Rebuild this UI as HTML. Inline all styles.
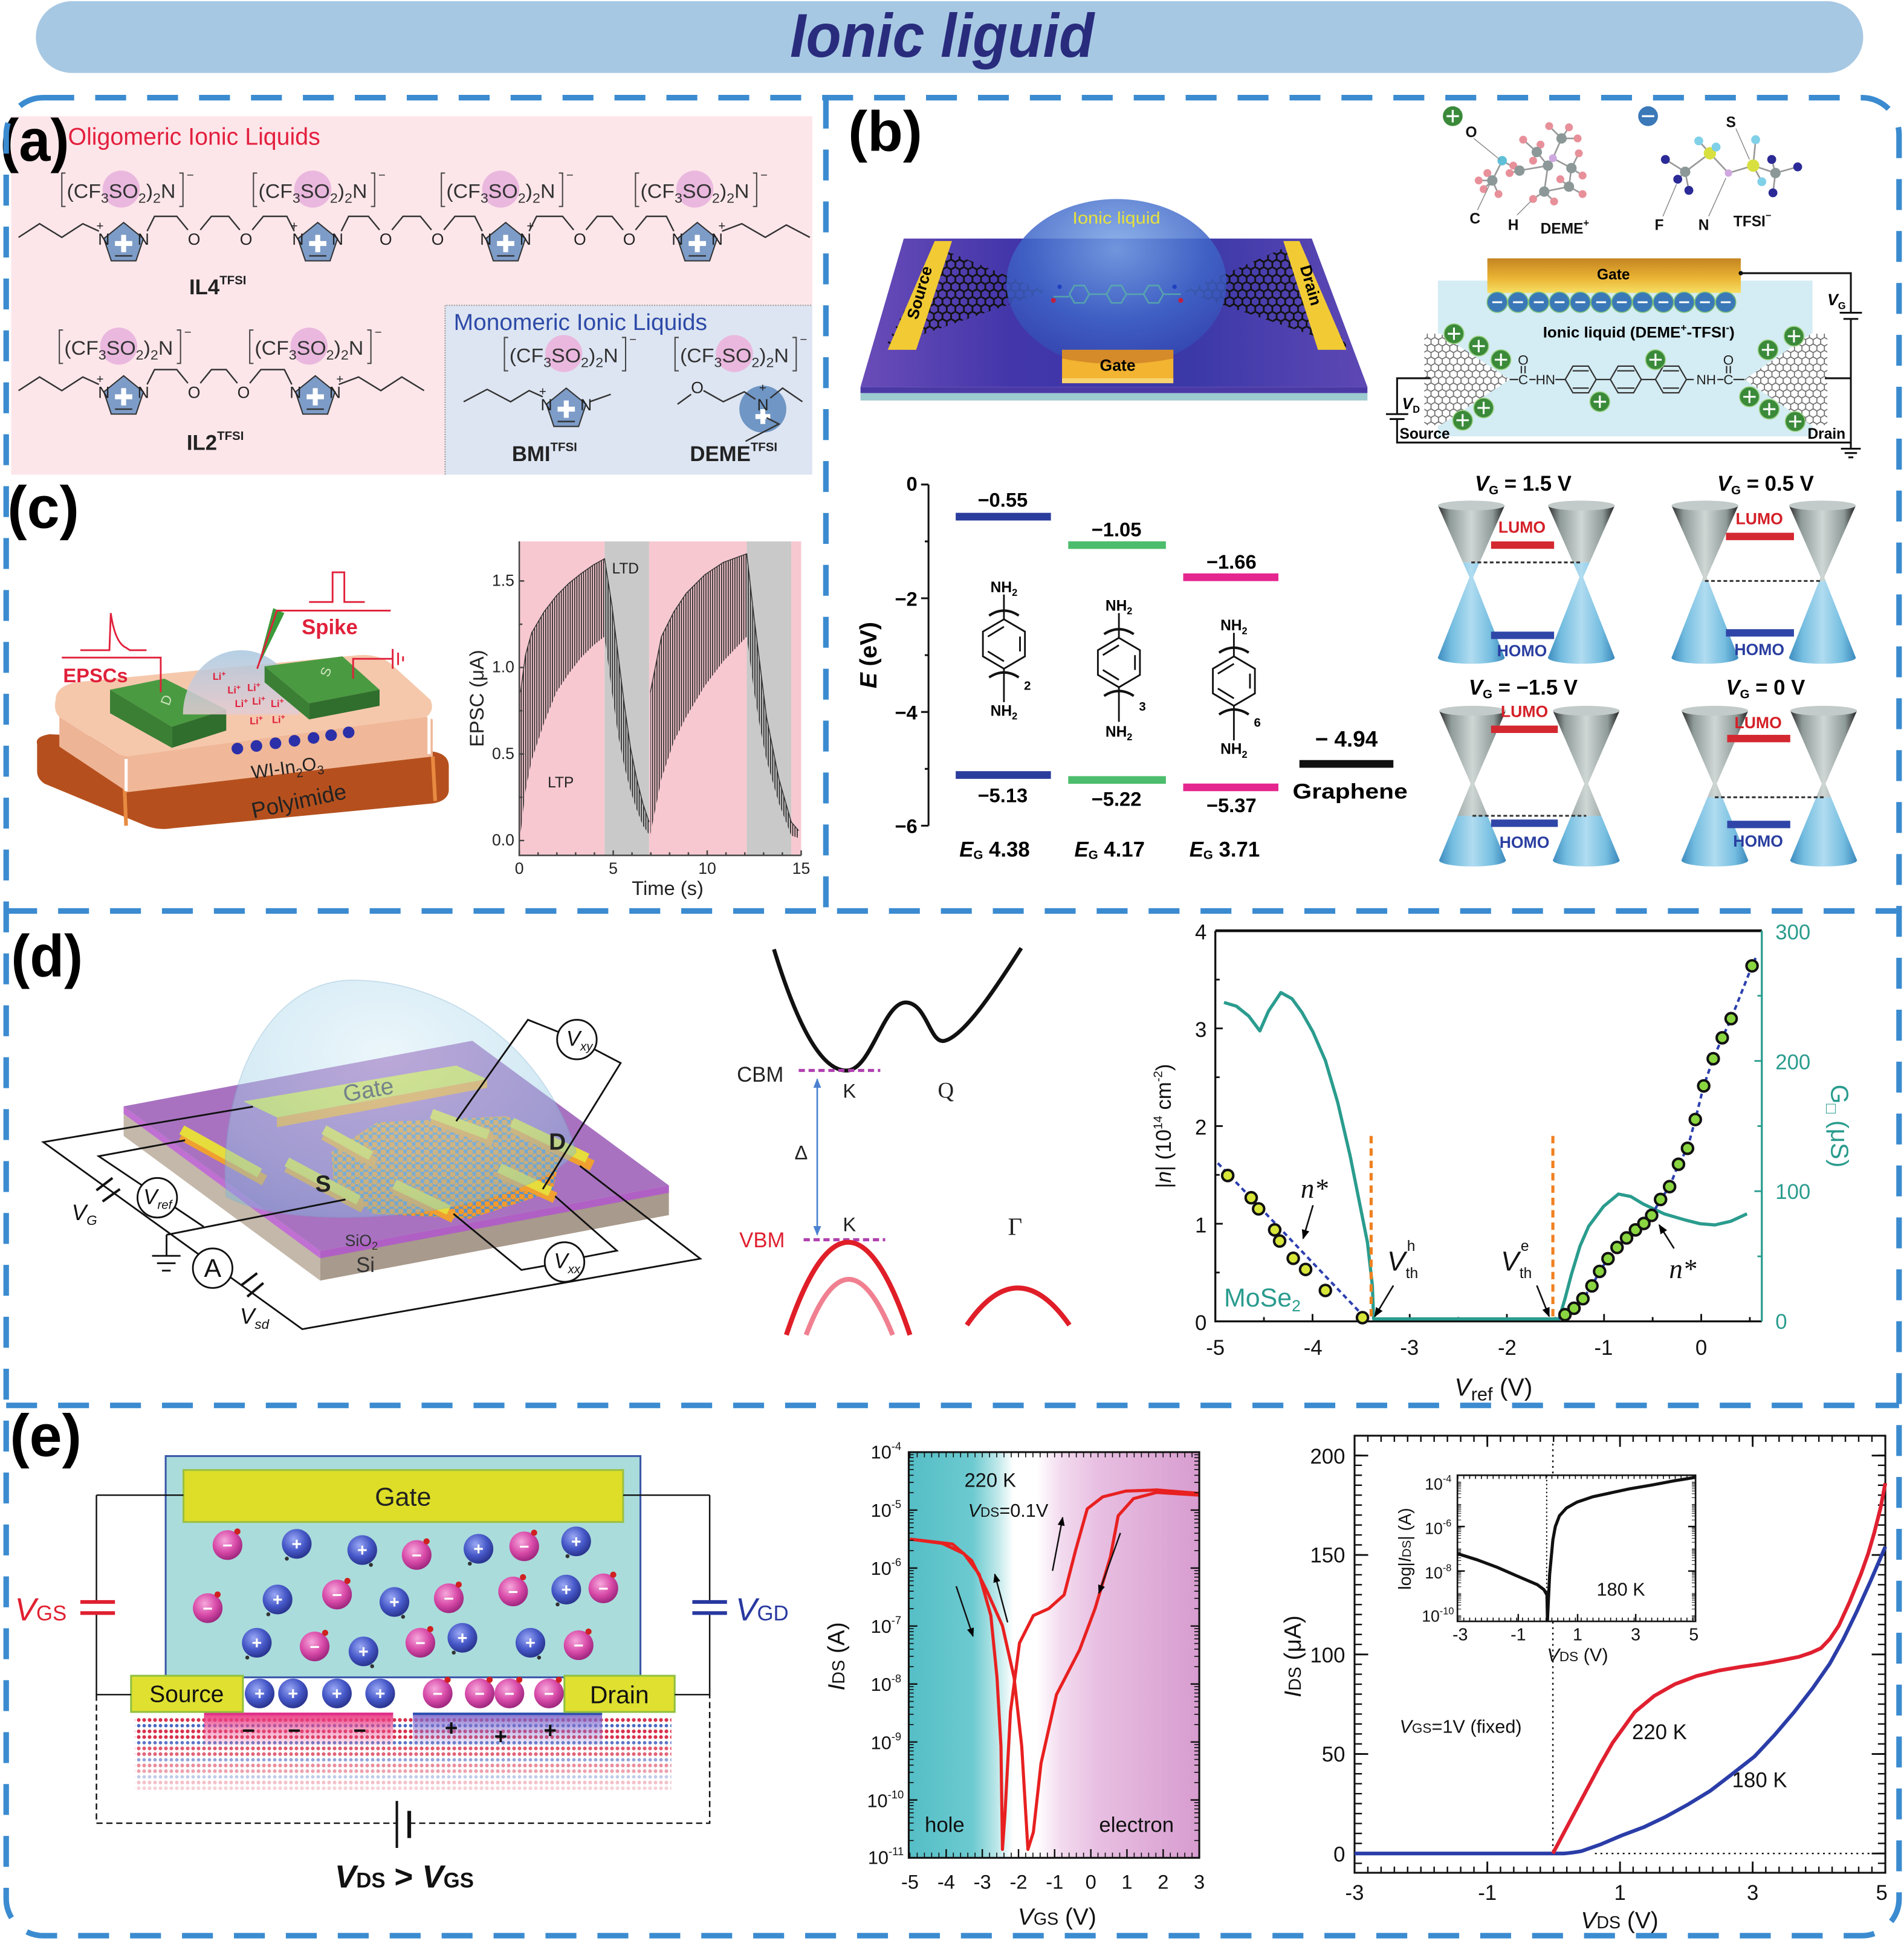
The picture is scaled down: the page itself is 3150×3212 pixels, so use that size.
<!DOCTYPE html>
<html><head><meta charset="utf-8"><style>
html,body{margin:0;padding:0;background:#fff;}
svg{display:block;}
text{font-family:"Liberation Sans",Arial,sans-serif;}
.serif{font-family:"Liberation Serif","Times New Roman",serif;}
</style></head><body>
<svg xmlns="http://www.w3.org/2000/svg" width="3150" height="3212" viewBox="0 0 1540 1570.3">
<defs>
<pattern id="hex" width="6.93" height="12" patternUnits="userSpaceOnUse"><path d="M0,2 L3.46,0 L6.93,2 M0,2 V6 M6.93,2 V6 M0,6 L3.46,8 L6.93,6 M3.46,8 V12" stroke="#111" stroke-width="1.4" fill="none"/></pattern>
<pattern id="hex2" width="6.06" height="10.5" patternUnits="userSpaceOnUse"><rect width="6.06" height="10.5" fill="#fff"/><path d="M0,1.75 L3.03,0 L6.06,1.75 M0,1.75 V5.25 M6.06,1.75 V5.25 M0,5.25 L3.03,7 L6.06,5.25 M3.03,7 V10.5" stroke="#666" stroke-width="0.8" fill="none"/></pattern>
<pattern id="vl" width="1.8" height="10" patternUnits="userSpaceOnUse"><rect width="0.8" height="10" fill="#222"/></pattern>
<pattern id="mose" width="7" height="6" patternUnits="userSpaceOnUse"><rect width="7" height="6" fill="#5a90c8"/><circle cx="2" cy="2" r="2.4" fill="#f39a2e"/><circle cx="5.5" cy="5" r="2" fill="#f39a2e"/></pattern>
<pattern id="dotR" width="4.4" height="4.6" patternUnits="userSpaceOnUse"><circle cx="2.2" cy="2.3" r="1.5" fill="#d8304c"/></pattern>
<pattern id="dotB" width="4.4" height="4.6" patternUnits="userSpaceOnUse"><circle cx="2.2" cy="2.3" r="1.4" fill="#4a66c0"/></pattern>
<linearGradient id="slabB" x1="0" x2="1" y1="0" y2="0"><stop offset="0" stop-color="#6a4cb8"/><stop offset=".3" stop-color="#4236aa"/><stop offset=".65" stop-color="#3b38a8"/><stop offset="1" stop-color="#5e48b4"/></linearGradient>
<radialGradient id="domeB" cx=".5" cy=".3" r=".7"><stop offset="0" stop-color="#7aa6e6"/><stop offset=".6" stop-color="#3f66c8"/><stop offset="1" stop-color="#3448b2"/></radialGradient>
<linearGradient id="gold" x1="0" x2="0" y1="0" y2="1"><stop offset="0" stop-color="#c48422"/><stop offset=".55" stop-color="#e9b233"/><stop offset="1" stop-color="#f7de62"/></linearGradient>
<linearGradient id="gc" x1="0" x2="1" y1="0" y2="0"><stop offset="0" stop-color="#2b2b2b"/><stop offset=".18" stop-color="#8f9b99"/><stop offset=".5" stop-color="#cfd7d5"/><stop offset=".82" stop-color="#8f9b99"/><stop offset="1" stop-color="#1e1e1e"/></linearGradient>
<linearGradient id="bc" x1="0" x2="1" y1="0" y2="0"><stop offset="0" stop-color="#3d8cc0"/><stop offset=".2" stop-color="#74bde0"/><stop offset=".5" stop-color="#b0dcf0"/><stop offset=".8" stop-color="#74bde0"/><stop offset="1" stop-color="#3a88bc"/></linearGradient>
<radialGradient id="domeD" cx=".45" cy=".3" r=".75"><stop offset="0" stop-color="#d4ecf6"/><stop offset=".7" stop-color="#9ccfe8"/><stop offset="1" stop-color="#7ab8dc"/></radialGradient>
<linearGradient id="domeC" x1="0" x2="0" y1="0" y2="1"><stop offset="0" stop-color="#a8c8e0"/><stop offset="1" stop-color="#e4ccd4"/></linearGradient>
<linearGradient id="vgsbg" x1="0" x2="1" y1="0" y2="0"><stop offset="0" stop-color="#55bec6"/><stop offset=".22" stop-color="#6ccad0"/><stop offset=".3" stop-color="#b9e6e8"/><stop offset=".36" stop-color="#ffffff"/><stop offset=".44" stop-color="#ffffff"/><stop offset=".52" stop-color="#f3dcef"/><stop offset=".65" stop-color="#e8bfe2"/><stop offset="1" stop-color="#d79ccf"/></linearGradient>
<linearGradient id="pinkH" x1="0" x2="0" y1="0" y2="1"><stop offset="0" stop-color="#e8307c" stop-opacity=".95"/><stop offset="1" stop-color="#f070a8" stop-opacity=".15"/></linearGradient>
<linearGradient id="purpH" x1="0" x2="0" y1="0" y2="1"><stop offset="0" stop-color="#7860c8" stop-opacity=".9"/><stop offset="1" stop-color="#a090e0" stop-opacity=".15"/></linearGradient>
<radialGradient id="ionP" cx=".4" cy=".35" r=".65"><stop offset="0" stop-color="#f6a8dc"/><stop offset=".6" stop-color="#d84aa8"/><stop offset="1" stop-color="#a02880"/></radialGradient>
<radialGradient id="ionB" cx=".4" cy=".35" r=".65"><stop offset="0" stop-color="#9aa8f4"/><stop offset=".6" stop-color="#4658c8"/><stop offset="1" stop-color="#2a3590"/></radialGradient>
<marker id="ah" viewBox="0 0 10 10" refX="9" refY="5" markerWidth="6" markerHeight="6" orient="auto"><path d="M0,1 L10,5 L0,9 Z" fill="#000"/></marker>
<marker id="ahb" viewBox="0 0 10 10" refX="9" refY="5" markerWidth="6" markerHeight="6" orient="auto-start-reverse"><path d="M0,1 L10,5 L0,9 Z" fill="#4a80d0"/></marker>
<clipPath id="u1"><rect x="1150" y="400" width="170" height="55"/></clipPath>
<clipPath id="l1"><rect x="1150" y="455" width="170" height="90"/></clipPath>
<clipPath id="u2"><rect x="1340" y="400" width="175" height="70"/></clipPath>
<clipPath id="l2"><rect x="1340" y="470" width="175" height="75"/></clipPath>
<clipPath id="u3"><rect x="1150" y="565" width="170" height="95"/></clipPath>
<clipPath id="l3"><rect x="1150" y="660" width="170" height="45"/></clipPath>
<clipPath id="u4"><rect x="1345" y="565" width="170" height="80"/></clipPath>
<clipPath id="l4"><rect x="1345" y="645" width="170" height="60"/></clipPath>
</defs>

<!-- Banner -->
<rect x="29" y="1" width="1478" height="58" rx="29" fill="#a7c8e3"/>
<text x="762" y="46" font-size="50" font-weight="bold" font-style="italic" fill="#292c7d" text-anchor="middle" textLength="246" lengthAdjust="spacingAndGlyphs">Ionic liguid</text>

<!-- Panel (a) -->
<rect x="9" y="94" width="648" height="290" fill="#fde6ea"/>
<rect x="360" y="247" width="297" height="137" fill="#dde5f2"/>
<path d="M360 384 V247 H657" fill="none" stroke="#9a9a9a" stroke-width="1" stroke-dasharray="1 1"/>
<text x="0" y="130" font-size="48" font-weight="bold" textLength="56" lengthAdjust="spacingAndGlyphs">(a)</text>
<text x="55" y="117" font-size="19.5" fill="#e3203e" textLength="204" lengthAdjust="spacingAndGlyphs">Oligomeric Ionic Liquids</text>
<text x="367" y="267" font-size="18.5" fill="#2d4aa8" textLength="205" lengthAdjust="spacingAndGlyphs">Monomeric Ionic Liquids</text>

<g fill="#eab8de">
<circle cx="98" cy="153" r="15"/><circle cx="253" cy="153" r="15"/><circle cx="405" cy="153" r="15"/><circle cx="562" cy="153" r="15"/>
<circle cx="96" cy="280" r="15"/><circle cx="250" cy="280" r="15"/>
<circle cx="456" cy="286" r="15"/><circle cx="594" cy="286" r="15"/>
</g>
<g stroke="#444" fill="none" stroke-width="1">
<path d="M53 140 h-3 v27 h3 M145 140 h3 v27 h-3"/>
<path d="M208 140 h-3 v27 h3 M300 140 h3 v27 h-3"/>
<path d="M360 140 h-3 v27 h3 M452 140 h3 v27 h-3"/>
<path d="M517 140 h-3 v27 h3 M609 140 h3 v27 h-3"/>
<path d="M51 267 h-3 v27 h3 M143 267 h3 v27 h-3"/>
<path d="M205 267 h-3 v27 h3 M297 267 h3 v27 h-3"/>
<path d="M411 273 h-3 v27 h3 M503 273 h3 v27 h-3"/>
<path d="M549 273 h-3 v27 h3 M641 273 h3 v27 h-3"/>
</g>
<g font-size="16" fill="#333">
<text x="54" y="160" textLength="88" lengthAdjust="spacingAndGlyphs">(CF<tspan font-size="11" dy="4">3</tspan><tspan dy="-4">SO</tspan><tspan font-size="11" dy="4">2</tspan><tspan dy="-4">)</tspan><tspan font-size="11" dy="4">2</tspan><tspan dy="-4">N</tspan></text>
<text x="209" y="160" textLength="88" lengthAdjust="spacingAndGlyphs">(CF<tspan font-size="11" dy="4">3</tspan><tspan dy="-4">SO</tspan><tspan font-size="11" dy="4">2</tspan><tspan dy="-4">)</tspan><tspan font-size="11" dy="4">2</tspan><tspan dy="-4">N</tspan></text>
<text x="361" y="160" textLength="88" lengthAdjust="spacingAndGlyphs">(CF<tspan font-size="11" dy="4">3</tspan><tspan dy="-4">SO</tspan><tspan font-size="11" dy="4">2</tspan><tspan dy="-4">)</tspan><tspan font-size="11" dy="4">2</tspan><tspan dy="-4">N</tspan></text>
<text x="518" y="160" textLength="88" lengthAdjust="spacingAndGlyphs">(CF<tspan font-size="11" dy="4">3</tspan><tspan dy="-4">SO</tspan><tspan font-size="11" dy="4">2</tspan><tspan dy="-4">)</tspan><tspan font-size="11" dy="4">2</tspan><tspan dy="-4">N</tspan></text>
<text x="52" y="287" textLength="88" lengthAdjust="spacingAndGlyphs">(CF<tspan font-size="11" dy="4">3</tspan><tspan dy="-4">SO</tspan><tspan font-size="11" dy="4">2</tspan><tspan dy="-4">)</tspan><tspan font-size="11" dy="4">2</tspan><tspan dy="-4">N</tspan></text>
<text x="206" y="287" textLength="88" lengthAdjust="spacingAndGlyphs">(CF<tspan font-size="11" dy="4">3</tspan><tspan dy="-4">SO</tspan><tspan font-size="11" dy="4">2</tspan><tspan dy="-4">)</tspan><tspan font-size="11" dy="4">2</tspan><tspan dy="-4">N</tspan></text>
<text x="412" y="293" textLength="88" lengthAdjust="spacingAndGlyphs">(CF<tspan font-size="11" dy="4">3</tspan><tspan dy="-4">SO</tspan><tspan font-size="11" dy="4">2</tspan><tspan dy="-4">)</tspan><tspan font-size="11" dy="4">2</tspan><tspan dy="-4">N</tspan></text>
<text x="550" y="293" textLength="88" lengthAdjust="spacingAndGlyphs">(CF<tspan font-size="11" dy="4">3</tspan><tspan dy="-4">SO</tspan><tspan font-size="11" dy="4">2</tspan><tspan dy="-4">)</tspan><tspan font-size="11" dy="4">2</tspan><tspan dy="-4">N</tspan></text>
</g>
<g font-size="10" fill="#333">
<text x="151" y="145">−</text><text x="306" y="145">−</text><text x="458" y="145">−</text><text x="615" y="145">−</text>
<text x="149" y="272">−</text><text x="303" y="272">−</text><text x="509" y="278">−</text><text x="647" y="278">−</text>
</g>

<g fill="#7d9cc8" stroke="#333" stroke-width="1">
<polygon points="100,180 116,193 110,211 90,211 84,193"/>
<polygon points="257,180 273,193 267,211 247,211 241,193"/>
<polygon points="409,180 425,193 419,211 399,211 393,193"/>
<polygon points="564,180 580,193 574,211 554,211 548,193"/>
<polygon points="100,304 116,317 110,335 90,335 84,317"/>
<polygon points="255,304 271,317 265,335 245,335 239,317"/>
<polygon points="458,314 474,327 468,345 448,345 442,327"/>
</g>
<circle cx="617" cy="331" r="19" fill="#6f96c4"/>
<g fill="#fff">
<rect x="98" y="190" width="4" height="14"/><rect x="93" y="195" width="14" height="4"/>
<rect x="255" y="190" width="4" height="14"/><rect x="250" y="195" width="14" height="4"/>
<rect x="407" y="190" width="4" height="14"/><rect x="402" y="195" width="14" height="4"/>
<rect x="562" y="190" width="4" height="14"/><rect x="557" y="195" width="14" height="4"/>
<rect x="98" y="314" width="4" height="14"/><rect x="93" y="319" width="14" height="4"/>
<rect x="253" y="314" width="4" height="14"/><rect x="248" y="319" width="14" height="4"/>
<rect x="456" y="324" width="4" height="14"/><rect x="451" y="329" width="14" height="4"/>
<rect x="615" y="331" width="4" height="12"/><rect x="611" y="335" width="12" height="4"/>
</g>
<g stroke="#333" stroke-width="1.2" fill="none">
<path d="M93 207 H107 M250 207 H264 M402 207 H416 M557 207 H571 M93 331 H107 M248 331 H262 M451 341 H465"/>
<path d="M15 192 L32 181 L50 192 L67 181 L80 187"/>
<path d="M119 187 L125 175 L143 175 L152 186 M162 186 L171 175 L185 175 L194 186 M204 186 L213 175 L232 175 L238 187"/>
<path d="M276 187 L282 175 L298 175 L307 186 M317 186 L326 175 L340 175 L349 186 M359 186 L368 175 L384 175 L390 187"/>
<path d="M428 187 L434 175 L455 175 L464 186 M474 186 L483 175 L495 175 L504 186 M514 186 L523 175 L539 175 L545 187"/>
<path d="M584 187 L600 181 L619 192 L636 182 L655 192"/>
<path d="M15 316 L32 305 L50 316 L67 305 L80 311"/>
<path d="M119 311 L125 299 L143 299 L152 310 M162 310 L171 299 L183 299 L192 310 M202 310 L211 299 L230 299 L236 311"/>
<path d="M274 311 L290 305 L308 316 L325 305 L343 316"/>
<path d="M375 325 L394 315 L413 325 L428 316 L439 321 M477 325 L494 319"/>
<path d="M548 327 L559 319 M569 316 L585 325 L602 317 L611 323 M623 322 L633 314 L649 325 M620 338 L630 343 L603 357"/>
</g>
<g font-size="13" fill="#222" text-anchor="middle">
<text x="84" y="198">N</text><text x="116" y="198">N</text>
<text x="241" y="198">N</text><text x="273" y="198">N</text>
<text x="393" y="198">N</text><text x="425" y="198">N</text>
<text x="548" y="198">N</text><text x="580" y="198">N</text>
<text x="84" y="322">N</text><text x="116" y="322">N</text>
<text x="239" y="322">N</text><text x="271" y="322">N</text>
<text x="442" y="332">N</text><text x="474" y="332">N</text>
<text x="617" y="332">N</text>
<text x="157" y="198">O</text><text x="199" y="198">O</text><text x="312" y="198">O</text><text x="354" y="198">O</text><text x="469" y="198">O</text><text x="509" y="198">O</text>
<text x="157" y="322">O</text><text x="197" y="322">O</text>
<text x="564" y="318">O</text>
</g>
<g font-size="10" fill="#222">
<text x="78" y="186">+</text><text x="235" y="186">+</text><text x="426" y="186">+</text><text x="581" y="186">+</text>
<text x="78" y="310">+</text><text x="272" y="310">+</text><text x="436" y="320">+</text><text x="614" y="317">+</text>
</g>
<g font-size="17" font-weight="bold" fill="#222">
<text x="153" y="238">IL4<tspan font-size="10" dy="-8">TFSI</tspan></text>
<text x="151" y="364">IL2<tspan font-size="10" dy="-8">TFSI</tspan></text>
<text x="414" y="373">BMI<tspan font-size="10" dy="-8">TFSI</tspan></text>
<text x="558" y="373">DEME<tspan font-size="10" dy="-8">TFSI</tspan></text>
</g>

<!-- Panel (b) -->
<text x="686" y="122" font-size="46" font-weight="bold" textLength="60" lengthAdjust="spacingAndGlyphs">(b)</text>
<rect x="696" y="313" width="410" height="5" fill="#4b3aa6"/>
<rect x="696" y="318" width="410" height="6" fill="#9ccbd0"/>
<polygon points="731,193 1061,193 1106,313 696,313" fill="url(#slabB)"/>
<polygon points="758,200 846,236 716,281" fill="url(#hex)"/>
<polygon points="1040,200 958,236 1090,281" fill="url(#hex)"/>
<ellipse cx="903" cy="229" rx="89" ry="68" fill="url(#domeB)" opacity="0.85"/>
<g fill="none" stroke="#5ab0a8" stroke-width="1.3" opacity="0.8">
<polygon points="865,238 869,231 877,231 881,238 877,245 869,245"/>
<polygon points="895,238 899,231 907,231 911,238 907,245 899,245"/>
<polygon points="925,238 929,231 937,231 941,238 937,245 929,245"/>
<path d="M852 240 H865 M881 238 H895 M911 238 H925 M941 238 H955"/>
</g>
<circle cx="852" cy="243" r="2" fill="#c02040"/><circle cx="955" cy="243" r="2" fill="#c02040"/>
<circle cx="857" cy="232" r="1.8" fill="#2040c0"/><circle cx="950" cy="232" r="1.8" fill="#2040c0"/>
<polygon points="756,195 770,195 741,283 718,283" fill="#f2cb34"/>
<polygon points="1038,195 1051,195 1089,283 1066,283" fill="#f2cb34"/>
<text transform="translate(748,238) rotate(-74)" font-size="13" font-weight="bold" text-anchor="middle">Source</text>
<text transform="translate(1056,232) rotate(74)" font-size="13" font-weight="bold" text-anchor="middle">Drain</text>
<rect x="859" y="283" width="90" height="27" fill="#f2b431"/>
<path d="M859 283 H949 V290 Q904 299 859 290 Z" fill="#d08428" opacity=".85"/>
<rect x="859" y="306" width="90" height="4" fill="#f8d470"/>
<text x="904" y="300" font-size="13" font-weight="bold" text-anchor="middle">Gate</text>
<text x="903" y="181" font-size="13.5" fill="#e8e23a" text-anchor="middle" textLength="71" lengthAdjust="spacingAndGlyphs">Ionic liquid</text>

<!-- molecules top right -->
<g stroke="#999" stroke-width="1.3" fill="none">
<path d="M1207 146 L1215 130 L1229 138 L1252 134 L1243 123 M1252 134 L1256 128 L1263 112 M1256 128 L1271 136 L1269 151 L1249 155 L1252 134 M1207 146 L1196 146 M1207 146 L1200 153 M1207 146 L1212 157 M1207 146 L1203 140 M1229 138 L1221 140 M1229 138 L1224 134 M1243 123 L1232 113 M1243 123 L1246 117 M1263 112 L1253 102 M1263 112 L1269 103 M1263 112 L1276 112 M1271 136 L1277 124 M1271 136 L1280 142 M1269 151 L1280 157 M1249 155 L1257 163 M1249 155 L1240 161 M1269 151 L1262 145 M1243 123 L1240 130"/>
<path d="M1347 129 L1363 139 M1357 145 L1363 139 M1366 154 L1363 139 M1363 139 L1383 124 L1374 114 M1383 124 L1388 119 M1383 124 L1398 140 L1418 134 L1420 113 M1418 134 L1425 147 M1418 134 L1436 140 L1433 129 M1436 140 L1454 135 M1436 140 L1434 156"/>
</g>
<g fill="#e8909a"><circle cx="1196" cy="146" r="3.2"/><circle cx="1200" cy="153" r="3.2"/><circle cx="1212" cy="157" r="3.2"/><circle cx="1203" cy="140" r="3.2"/><circle cx="1221" cy="140" r="3.2"/><circle cx="1232" cy="113" r="3.2"/><circle cx="1246" cy="117" r="3.2"/><circle cx="1253" cy="102" r="3.2"/><circle cx="1269" cy="103" r="3.2"/><circle cx="1276" cy="112" r="3.2"/><circle cx="1277" cy="124" r="3.2"/><circle cx="1280" cy="142" r="3.2"/><circle cx="1280" cy="157" r="3.2"/><circle cx="1257" cy="163" r="3.2"/><circle cx="1240" cy="161" r="3.2"/><circle cx="1262" cy="145" r="3.2"/><circle cx="1240" cy="130" r="3.2"/><circle cx="1224" cy="134" r="3.2"/></g>
<g fill="#8c9898"><circle cx="1207" cy="146" r="4.2"/><circle cx="1229" cy="138" r="4.2"/><circle cx="1243" cy="123" r="4.2"/><circle cx="1252" cy="134" r="4.2"/><circle cx="1271" cy="136" r="4.2"/><circle cx="1269" cy="151" r="4.2"/><circle cx="1249" cy="155" r="4.2"/><circle cx="1263" cy="112" r="4.2"/><circle cx="1363" cy="139" r="4.2"/><circle cx="1436" cy="140" r="4.2"/></g>
<circle cx="1215" cy="130" r="3.8" fill="#5fc0d8"/><circle cx="1256" cy="128" r="3.2" fill="#cfa8e0"/>
<g fill="#2b2a96"><circle cx="1347" cy="129" r="3.6"/><circle cx="1357" cy="145" r="3.6"/><circle cx="1366" cy="154" r="3.6"/><circle cx="1433" cy="129" r="3.6"/><circle cx="1454" cy="135" r="3.6"/><circle cx="1434" cy="156" r="3.6"/></g>
<g fill="#d8e040"><circle cx="1383" cy="124" r="5"/><circle cx="1418" cy="134" r="5"/></g>
<g fill="#80d0e8"><circle cx="1374" cy="114" r="3.6"/><circle cx="1388" cy="119" r="3.6"/><circle cx="1420" cy="113" r="3.6"/><circle cx="1425" cy="147" r="3.6"/></g>
<circle cx="1398" cy="140" r="3" fill="#d0a8e0"/>
<g stroke="#888" stroke-width="0.7" fill="none"><path d="M1192 112 L1213 129 M1195 170 L1205 149 M1227 174 L1238 163 M1345 175 L1356 149 M1382 175 L1396 144 M1404 104 L1415 129"/></g>
<circle cx="1175" cy="94" r="8" fill="#3a8a3a"/><path d="M1170 94 H1180 M1175 89 V99" stroke="#fff" stroke-width="1.6"/>
<circle cx="1333" cy="94" r="8" fill="#3a78b8"/><path d="M1328 94 H1338" stroke="#fff" stroke-width="1.6"/>
<g font-size="12" font-weight="bold" fill="#111">
<text x="1190" y="111" text-anchor="middle">O</text><text x="1193" y="181" text-anchor="middle">C</text><text x="1224" y="186" text-anchor="middle">H</text>
<text x="1246" y="189">DEME<tspan font-size="8" dy="-6">+</tspan></text>
<text x="1342" y="186" text-anchor="middle">F</text><text x="1378" y="186" text-anchor="middle">N</text>
<text x="1402" y="183">TFSI<tspan font-size="8" dy="-6">−</tspan></text>
<text x="1400" y="103" text-anchor="middle">S</text>
</g>

<!-- circuit schematic -->
<rect x="1163" y="227" width="303" height="126" fill="#d4ecf3"/>
<rect x="1203" y="209" width="205" height="28" fill="url(#gold)"/>
<text x="1305" y="226" font-size="12" font-weight="bold" text-anchor="middle">Gate</text>
<g fill="#3a78b8" stroke="#7cc07a" stroke-width="0.8">
<circle cx="1211" cy="244.5" r="8.2"/><circle cx="1227.8" cy="244.5" r="8.2"/><circle cx="1244.6" cy="244.5" r="8.2"/><circle cx="1261.4" cy="244.5" r="8.2"/><circle cx="1278.2" cy="244.5" r="8.2"/><circle cx="1295" cy="244.5" r="8.2"/><circle cx="1311.8" cy="244.5" r="8.2"/><circle cx="1328.6" cy="244.5" r="8.2"/><circle cx="1345.4" cy="244.5" r="8.2"/><circle cx="1362.2" cy="244.5" r="8.2"/><circle cx="1379" cy="244.5" r="8.2"/><circle cx="1395.8" cy="244.5" r="8.2"/>
</g>
<path d="M1207 244.5 h8 M1223.8 244.5 h8 M1240.6 244.5 h8 M1257.4 244.5 h8 M1274.2 244.5 h8 M1291 244.5 h8 M1307.8 244.5 h8 M1324.6 244.5 h8 M1341.4 244.5 h8 M1358.2 244.5 h8 M1375 244.5 h8 M1391.8 244.5 h8" stroke="#fff" stroke-width="1.5"/>
<text x="1248" y="273" font-size="12" font-weight="bold" textLength="155" lengthAdjust="spacingAndGlyphs">Ionic liquid (DEME<tspan font-size="8" dy="-5">+</tspan><tspan dy="5">-TFSI</tspan><tspan font-size="8" dy="-5">-</tspan><tspan dy="5">)</tspan></text>
<polygon points="1152,270 1165,270 1221,307 1165,344 1152,344" fill="url(#hex2)"/>
<polygon points="1478,270 1465,270 1411,307 1465,344 1478,344" fill="url(#hex2)"/>
<g stroke="#333" stroke-width="1.1" fill="none">
<path d="M1221 307 H1228 M1237 307 H1242 M1258 307 H1266 M1291 307 H1302.5 M1327.5 307 H1339 M1364 307 H1370 M1389 307 H1394 M1402 307 H1411"/>
<path d="M1230.5 296 V302 M1233.5 296 V302 M1396.5 296 V302 M1399.5 296 V302"/>
<polygon points="1266,307 1272.25,296.2 1284.75,296.2 1291,307 1284.75,317.8 1272.25,317.8"/>
<polygon points="1302.5,307 1308.75,296.2 1321.25,296.2 1327.5,307 1321.25,317.8 1308.75,317.8"/>
<polygon points="1339,307 1345.25,296.2 1357.75,296.2 1364,307 1357.75,317.8 1345.25,317.8"/>
<path d="M1272 300 H1285 M1272 314 H1285 M1308 300 H1322 M1308 314 H1322 M1345 300 H1358 M1345 314 H1358"/>
</g>
<g font-size="11" fill="#222" text-anchor="middle">
<text x="1232" y="311">C</text><text x="1250" y="311">HN</text><text x="1380" y="311">NH</text><text x="1398" y="311">C</text>
<text x="1232" y="295">O</text><text x="1398" y="295">O</text>
</g>
<g fill="#3a8a3a" stroke="#9ad080" stroke-width="0.8">
<circle cx="1176" cy="270" r="8"/><circle cx="1196" cy="280" r="8"/><circle cx="1214" cy="291" r="8"/><circle cx="1200" cy="330" r="8"/><circle cx="1183" cy="340" r="8"/><circle cx="1339" cy="291" r="8"/><circle cx="1294" cy="325" r="8"/><circle cx="1451" cy="272" r="8"/><circle cx="1430" cy="283" r="8"/><circle cx="1415" cy="321" r="8"/><circle cx="1431" cy="331" r="8"/><circle cx="1452" cy="341" r="8"/>
</g>
<path d="M1171 270 h10 M1176 265 v10 M1191 280 h10 M1196 275 v10 M1209 291 h10 M1214 286 v10 M1195 330 h10 M1200 325 v10 M1178 340 h10 M1183 335 v10 M1334 291 h10 M1339 286 v10 M1289 325 h10 M1294 320 v10 M1446 272 h10 M1451 267 v10 M1425 283 h10 M1430 278 v10 M1410 321 h10 M1415 316 v10 M1426 331 h10 M1431 326 v10 M1447 341 h10 M1452 336 v10" stroke="#fff" stroke-width="1.5"/>
<g stroke="#111" stroke-width="1.5" fill="none">
<path d="M1408 221 H1497 V253 M1497 258 V358 H1130 V339 M1130 335 V306 H1157 M1476 306 H1497"/>
<path d="M1488 253 H1506 M1491 258 H1503 M1121 335 H1139 M1124 339 H1136"/>
<path d="M1497 358 V363 M1489 363 H1505 M1492 366.5 H1502 M1495 370 H1499"/>
</g>
<circle cx="1408" cy="221" r="1.8" fill="#111"/>
<text x="1478" y="247" font-size="13" font-weight="bold"><tspan font-style="italic">V</tspan><tspan font-size="8" dy="3">G</tspan></text>
<text x="1134" y="331" font-size="13" font-weight="bold"><tspan font-style="italic">V</tspan><tspan font-size="8" dy="3">D</tspan></text>
<text x="1132" y="355" font-size="12" font-weight="bold">Source</text>
<text x="1462" y="355" font-size="12" font-weight="bold">Drain</text>

<!-- energy diagram -->
<g stroke="#111" stroke-width="1.5">
<path d="M751 392 V668 M745 392 H751 M745 484 H751 M745 576 H751 M745 668 H751 M748 438 H751 M748 530 H751 M748 622 H751"/>
</g>
<g font-size="16" font-weight="bold" text-anchor="end">
<text x="742" y="397">0</text><text x="742" y="490">−2</text><text x="742" y="582">−4</text><text x="742" y="674">−6</text>
</g>
<text transform="translate(709,530) rotate(-90)" text-anchor="middle" font-size="19" font-weight="bold"><tspan font-style="italic">E</tspan> (eV)</text>
<g stroke-width="6.2">
<line x1="773" y1="418" x2="850" y2="418" stroke="#2b3d9c"/>
<line x1="773" y1="627" x2="850" y2="627" stroke="#2b3d9c"/>
<line x1="864" y1="441" x2="943" y2="441" stroke="#4cbd6c"/>
<line x1="864" y1="631" x2="943" y2="631" stroke="#4cbd6c"/>
<line x1="957" y1="467" x2="1034" y2="467" stroke="#e5268f"/>
<line x1="957" y1="637" x2="1034" y2="637" stroke="#e5268f"/>
<line x1="1051" y1="618" x2="1127" y2="618" stroke="#111"/>
</g>
<g font-size="16" font-weight="bold" text-anchor="middle">
<text x="811" y="410">−0.55</text><text x="903" y="434">−1.05</text><text x="996" y="460">−1.66</text>
<text x="811" y="649">−5.13</text><text x="903" y="652">−5.22</text><text x="996" y="657">−5.37</text>
<text x="1089" y="604" font-size="18">− 4.94</text>
<text x="1092" y="646" font-size="17" textLength="93" lengthAdjust="spacingAndGlyphs">Graphene</text>
</g>
<g font-size="17" font-weight="bold">
<text x="776" y="693"><tspan font-style="italic">E</tspan><tspan font-size="10" dy="2">G</tspan><tspan dy="-2"> 4.38</tspan></text>
<text x="869" y="693"><tspan font-style="italic">E</tspan><tspan font-size="10" dy="2">G</tspan><tspan dy="-2"> 4.17</tspan></text>
<text x="962" y="693"><tspan font-style="italic">E</tspan><tspan font-size="10" dy="2">G</tspan><tspan dy="-2"> 3.71</tspan></text>
</g>
<g stroke="#111" stroke-width="1.4" fill="none">
<path d="M812 481 V501 M812 541 V568"/>
<polygon points="812,501 829,511 829,531 812,541 795,531 795,511"/>
<path d="M799 515 L812 507 M825 515 V527 M799 527 L812 535"/>
<path d="M800 498 Q812 490 824 498 M800 548 Q812 540 824 548" stroke-width="2"/>
<path d="M905 496 V516 M905 556 V584"/>
<polygon points="905,516 922,526 922,546 905,556 888,546 888,526"/>
<path d="M892 530 L905 522 M918 530 V542 M892 542 L905 550"/>
<path d="M893 513 Q905 505 917 513 M893 563 Q905 555 917 563" stroke-width="2"/>
<path d="M998 512 V531 M998 571 V599"/>
<polygon points="998,531 1015,541 1015,561 998,571 981,561 981,541"/>
<path d="M985 545 L998 537 M1011 545 V557 M985 557 L998 565"/>
<path d="M986 528 Q998 520 1010 528 M986 578 Q998 570 1010 578" stroke-width="2"/>
</g>
<g font-size="12" font-weight="bold" text-anchor="middle">
<text x="812" y="479">NH<tspan font-size="8" dy="3">2</tspan></text>
<text x="812" y="579">NH<tspan font-size="8" dy="3">2</tspan></text>
<text x="905" y="494">NH<tspan font-size="8" dy="3">2</tspan></text>
<text x="905" y="596">NH<tspan font-size="8" dy="3">2</tspan></text>
<text x="998" y="510">NH<tspan font-size="8" dy="3">2</tspan></text>
<text x="998" y="610">NH<tspan font-size="8" dy="3">2</tspan></text>
<text x="831" y="558" font-size="10">2</text><text x="924" y="575" font-size="10">3</text><text x="1017" y="588" font-size="10">6</text>
</g>

<!-- cones -->
<g clip-path="url(#u1)" fill="url(#gc)"><polygon points="1163,409 1217,409 1191.5,467 1217,532 1163,532 1188.5,467"/><polygon points="1252,409 1306,409 1280.5,467 1306,532 1252,532 1277.5,467"/></g>
<g clip-path="url(#l1)" fill="url(#bc)"><polygon points="1163,409 1217,409 1191.5,467 1217,532 1163,532 1188.5,467"/><polygon points="1252,409 1306,409 1280.5,467 1306,532 1252,532 1277.5,467"/><ellipse cx="1190" cy="532" rx="27" ry="5"/><ellipse cx="1279" cy="532" rx="27" ry="5"/></g>
<g clip-path="url(#u2)" fill="url(#gc)"><polygon points="1352,409 1406,409 1380.5,467 1406,532 1352,532 1377.5,467"/><polygon points="1447,409 1501,409 1475.5,467 1501,532 1447,532 1472.5,467"/></g>
<g clip-path="url(#l2)" fill="url(#bc)"><polygon points="1352,409 1406,409 1380.5,467 1406,532 1352,532 1377.5,467"/><polygon points="1447,409 1501,409 1475.5,467 1501,532 1447,532 1472.5,467"/><ellipse cx="1379" cy="532" rx="27" ry="5"/><ellipse cx="1474" cy="532" rx="27" ry="5"/></g>
<g clip-path="url(#u3)" fill="url(#gc)"><polygon points="1164,575 1218,575 1192.5,634 1218,696 1164,696 1189.5,634"/><polygon points="1256,575 1310,575 1284.5,634 1310,696 1256,696 1281.5,634"/></g>
<g clip-path="url(#l3)" fill="url(#bc)"><polygon points="1164,575 1218,575 1192.5,634 1218,696 1164,696 1189.5,634"/><polygon points="1256,575 1310,575 1284.5,634 1310,696 1256,696 1281.5,634"/><ellipse cx="1191" cy="696" rx="27" ry="5"/><ellipse cx="1283" cy="696" rx="27" ry="5"/></g>
<g clip-path="url(#u4)" fill="url(#gc)"><polygon points="1360,575 1414,575 1388.5,634 1414,696 1360,696 1385.5,634"/><polygon points="1448,575 1502,575 1476.5,634 1502,696 1448,696 1473.5,634"/></g>
<g clip-path="url(#l4)" fill="url(#bc)"><polygon points="1360,575 1414,575 1388.5,634 1414,696 1360,696 1385.5,634"/><polygon points="1448,575 1502,575 1476.5,634 1502,696 1448,696 1473.5,634"/><ellipse cx="1387" cy="696" rx="27" ry="5"/><ellipse cx="1475" cy="696" rx="27" ry="5"/></g>
<g fill="#c2cbc9"><ellipse cx="1190" cy="409" rx="27" ry="4"/><ellipse cx="1279" cy="409" rx="27" ry="4"/><ellipse cx="1379" cy="409" rx="27" ry="4"/><ellipse cx="1474" cy="409" rx="27" ry="4"/><ellipse cx="1191" cy="575" rx="27" ry="4"/><ellipse cx="1283" cy="575" rx="27" ry="4"/><ellipse cx="1387" cy="575" rx="27" ry="4"/><ellipse cx="1475" cy="575" rx="27" ry="4"/></g>
<g stroke="#333" stroke-width="1.5" stroke-dasharray="3 2"><path d="M1190 455 H1279 M1379 470 H1474 M1191 660 H1283 M1387 645 H1475"/></g>
<g fill="#d42830"><rect x="1206" y="438" width="51" height="6"/><rect x="1396" y="431" width="55" height="6"/><rect x="1206" y="587" width="54" height="6"/><rect x="1397" y="594.5" width="51" height="6"/></g>
<g fill="#2f46a8"><rect x="1206" y="511" width="51" height="6"/><rect x="1396" y="509" width="55" height="6"/><rect x="1206" y="663" width="54" height="6"/><rect x="1397" y="664" width="51" height="6"/></g>
<g font-size="13" font-weight="bold" text-anchor="middle">
<text x="1231" y="431" fill="#d42028">LUMO</text><text x="1423" y="424" fill="#d42028">LUMO</text><text x="1233" y="580" fill="#d42028">LUMO</text><text x="1422" y="589" fill="#d42028">LUMO</text>
<text x="1231" y="531" fill="#2a3ea0">HOMO</text><text x="1423" y="530" fill="#2a3ea0">HOMO</text><text x="1233" y="686" fill="#2a3ea0">HOMO</text><text x="1422" y="685" fill="#2a3ea0">HOMO</text>
</g>
<g font-size="17" font-weight="bold" text-anchor="middle">
<text x="1232" y="397"><tspan font-style="italic">V</tspan><tspan font-size="10" dy="3">G</tspan><tspan dy="-3"> = 1.5 V</tspan></text>
<text x="1428" y="397"><tspan font-style="italic">V</tspan><tspan font-size="10" dy="3">G</tspan><tspan dy="-3"> = 0.5 V</tspan></text>
<text x="1232" y="562"><tspan font-style="italic">V</tspan><tspan font-size="10" dy="3">G</tspan><tspan dy="-3"> = −1.5 V</tspan></text>
<text x="1428" y="562"><tspan font-style="italic">V</tspan><tspan font-size="10" dy="3">G</tspan><tspan dy="-3"> = 0 V</tspan></text>
</g>

<!-- Panel (c) -->
<text x="6" y="427" font-size="48" font-weight="bold" textLength="58" lengthAdjust="spacingAndGlyphs">(c)</text>
<path d="M30 602 Q28 596 40 594 L350 608 Q363 610 363 620 L363 640 Q362 648 350 650 L140 670 Q128 672 118 668 L36 634 Q30 630 30 624 Z" fill="#b5501e"/>
<path d="M100 620 L102 668 M350 612 L352 648" stroke="#e88a40" stroke-width="3"/>
<path d="M45 566 Q45 556 60 552 L290 530 Q305 529 315 536 L348 566 Q352 574 345 580 L110 612 Q100 614 92 608 L48 580 Q43 575 45 566 Z" fill="#f5c8ac"/>
<path d="M48 580 L95 610 L102 612 L102 640 L48 604 Z" fill="#eeb496"/>
<path d="M102 612 L345 580 L350 582 L350 612 L102 641 Z" fill="#f0b898"/>
<path d="M102 614 V640 M347 580 V610" stroke="#fff" stroke-width="2.5"/>
<polygon points="89,558 133,549 183,574 139,588" fill="#4a9a42"/>
<polygon points="89,558 139,588 139,605 89,577" fill="#3a7f34"/>
<polygon points="139,588 183,574 183,591 139,605" fill="#2f6e2c"/>
<path d="M148 578 A47 52 0 0 1 242 578 Z" fill="url(#domeC)" opacity="0.85"/>
<polygon points="214,539 277,531 307,558 250,569" fill="#4a9a42"/>
<polygon points="214,539 250,569 250,582 214,552" fill="#3a7f34"/>
<polygon points="250,569 307,558 307,571 250,582" fill="#2f6e2c"/>
<text x="133" y="574" font-size="11" fill="#cfe6bf" transform="rotate(-70 133 570)">D</text>
<text x="262" y="551" font-size="11" fill="#cfe6bf" transform="rotate(-70 262 547)">S</text>
<polygon points="221,492 230,496 208,541" fill="#3a9a3a"/>
<g fill="#2b2fa8"><circle cx="192" cy="605.6" r="4.7"/><circle cx="207.4" cy="603.5" r="4.7"/><circle cx="222.8" cy="601.3" r="4.7"/><circle cx="238.2" cy="599.3" r="4.7"/><circle cx="253.6" cy="597" r="4.7"/><circle cx="267.8" cy="594.8" r="4.7"/><circle cx="282" cy="592.5" r="4.7"/></g>
<g stroke="#e0203a" stroke-width="1.4" fill="none">
<path d="M208 541 L224 494 H316"/>
<path d="M250 487 H269 V463 H278.5 V487 H295"/>
<path d="M130 560 V532 H50"/>
<path d="M65 526 H88.5 L89.6 496 Q93 520 102 524 L105 526 H118.5"/>
<path d="M285.6 549 V533 H317.6 M317.6 525 V541 M322 528 V538 M326 531 V535"/>
</g>
<g font-size="8" font-weight="bold" fill="#e0203a">
<text x="172" y="550">Li<tspan font-size="6" dy="-3">+</tspan></text><text x="184" y="561">Li<tspan font-size="6" dy="-3">+</tspan></text><text x="200" y="559">Li<tspan font-size="6" dy="-3">+</tspan></text>
<text x="190" y="572">Li<tspan font-size="6" dy="-3">+</tspan></text><text x="204" y="570">Li<tspan font-size="6" dy="-3">+</tspan></text><text x="219" y="572">Li<tspan font-size="6" dy="-3">+</tspan></text>
<text x="202" y="586">Li<tspan font-size="6" dy="-3">+</tspan></text><text x="220" y="585">Li<tspan font-size="6" dy="-3">+</tspan></text>
</g>
<text x="51" y="552" font-size="16" font-weight="bold" fill="#e0203a">EPSCs</text>
<text x="244" y="513" font-size="17" font-weight="bold" fill="#e0203a">Spike</text>
<text transform="translate(233,626) rotate(-8)" font-size="15" text-anchor="middle" fill="#222">WI-In<tspan font-size="10" dy="4">2</tspan><tspan dy="-4">O</tspan><tspan font-size="10" dy="4">3</tspan></text>
<text transform="translate(243,654) rotate(-12)" font-size="18" text-anchor="middle" fill="#222">Polyimide</text>

<!-- EPSC plot -->
<rect x="420" y="438" width="69" height="254" fill="#f7c8d0"/>
<rect x="489" y="438" width="36" height="254" fill="#c9c9c9"/>
<rect x="525" y="438" width="79" height="254" fill="#f7c8d0"/>
<rect x="604" y="438" width="36" height="254" fill="#c9c9c9"/>
<rect x="640" y="438" width="8" height="254" fill="#f7c8d0"/>
<g fill="url(#vl)">
<path d="M421 560 L425 530 L430 512 L440 495 L450 482 L460 472 L470 464 L480 457 L489 452 L489 515 L480 522 L470 532 L460 545 L450 560 L440 585 L430 615 L425 640 L421 675 Z"/>
<path d="M489 452 L495 490 L500 530 L505 570 L510 605 L515 630 L520 650 L525 665 L525 675 L520 668 L515 655 L510 640 L505 620 L500 595 L495 560 L489 515 Z"/>
<path d="M526 560 L535 515 L545 495 L555 480 L570 465 L585 455 L604 448 L604 515 L585 535 L570 555 L555 580 L545 600 L535 630 L526 675 Z"/>
<path d="M604 448 L610 500 L615 540 L620 580 L630 630 L640 665 L646 672 L646 678 L640 676 L630 650 L620 615 L615 590 L610 560 L604 515 Z"/>
</g>
<g stroke="#333" stroke-width="0.7" fill="none">
<path d="M421 560 L425 530 L430 512 L440 495 L450 482 L460 472 L470 464 L480 457 L489 452 L495 490 L500 530 L505 570 L510 605 L515 630 L520 650 L525 665 M526 560 L535 515 L545 495 L555 480 L570 465 L585 455 L604 448 L610 500 L615 540 L620 580 L630 630 L640 665 L646 672"/>
</g>
<g stroke="#444" stroke-width="1.2" fill="none">
<path d="M420 438 V692 H648"/>
<path d="M420 680 h4 M420 610 h4 M420 540 h4 M420 470 h4 M420 645 h2.5 M420 575 h2.5 M420 505 h2.5"/>
<path d="M420 692 v-4 M496 692 v-4 M572 692 v-4 M648 692 v-4 M435.2 692 v-2.5 M450.4 692 v-2.5 M465.6 692 v-2.5 M480.8 692 v-2.5 M511.2 692 v-2.5 M526.4 692 v-2.5 M541.6 692 v-2.5 M556.8 692 v-2.5 M587.2 692 v-2.5 M602.4 692 v-2.5 M617.6 692 v-2.5 M632.8 692 v-2.5"/>
</g>
<g font-size="13" fill="#222">
<text x="416" y="684" text-anchor="end">0.0</text><text x="416" y="614" text-anchor="end">0.5</text><text x="416" y="544" text-anchor="end">1.0</text><text x="416" y="474" text-anchor="end">1.5</text>
<text x="420" y="707" text-anchor="middle">0</text><text x="496" y="707" text-anchor="middle">5</text><text x="572" y="707" text-anchor="middle">10</text><text x="648" y="707" text-anchor="middle">15</text>
<text x="495" y="464" font-size="12">LTD</text><text x="443" y="637" font-size="12">LTP</text>
</g>
<text x="540" y="724" font-size="16" text-anchor="middle" fill="#222">Time (s)</text>
<text transform="translate(391,565) rotate(-90)" font-size="16" text-anchor="middle" fill="#222">EPSC (μA)</text>

<!-- Panel (d) -->
<text x="9" y="790" font-size="48" font-weight="bold" textLength="58" lengthAdjust="spacingAndGlyphs">(d)</text>
<polygon points="100,895 259,1012 259,1036 100,919" fill="#c4b8aa"/>
<polygon points="259,1012 541,959 541,983 259,1036" fill="#a89a8c"/>
<polygon points="100,895 259,1012 259,1018 100,901" fill="#c070d2"/>
<polygon points="259,1012 541,959 541,965 259,1018" fill="#b060c4"/>
<polygon points="100,895 382,842 541,959 259,1012" fill="#a872c0"/>
<polygon points="268,932 305,908 410,903 455,926 447,964 380,986 302,982 270,960" fill="url(#mose)"/>
<g stroke-linecap="butt">
<g stroke="#f0a030" stroke-width="9">
<path d="M147 918 L214 955 M232 944 L294 977 M262 918 L304 941 M319 962 L367 985 M349 905 L399 923 M414 912 L479 943 M404 949 L449 969"/>
</g>
<g stroke="#e6dc3c" stroke-width="8">
<path d="M147 914 L210 949 M232 940 L290 971 M262 914 L300 935 M319 958 L363 979 M349 901 L395 918 M414 908 L475 937 M404 945 L445 964"/>
</g>
</g>
<polygon points="224,904 394,873 394,880 224,912" fill="#f0a030"/>
<polygon points="197,891 369,862 394,873 224,904" fill="#d6de44"/>
<text transform="translate(299,888) rotate(-10)" font-size="19" text-anchor="middle" fill="#333">Gate</text>
<path d="M183 968 C176 880 215 795 283 793 C360 792 440 845 466 932 C420 985 240 1000 183 968 Z" fill="url(#domeD)" opacity="0.45" stroke="#7ab0d0" stroke-width="0.8"/>
<text x="255" y="964" font-size="19" font-weight="bold" fill="#222">S</text>
<text x="444" y="930" font-size="19" font-weight="bold" fill="#222">D</text>
<text x="279" y="1008" font-size="13" fill="#333">SiO<tspan font-size="9" dy="3">2</tspan></text>
<text x="288" y="1029" font-size="17" fill="#333">Si</text>
<g stroke="#111" stroke-width="1.4" fill="none">
<path d="M204.6 895.3 L35 924 L244.5 1075.3 L566.4 1018.3 L469 943.2"/>
<path d="M149.7 922.5 L79.8 935.4 L164.7 992.4"/>
<path d="M134.7 999 L279.4 970.4"/>
<path d="M134.7 999 V1016 M123 1016 H146 M127 1022 H142 M131 1028 H138"/>
<path d="M369 907 L427 825 L452 835 M481 849 L502 860 L439 962"/>
<path d="M366.8 982 L421.7 1027.4 L441 1024 M472 1017 L499 1011.8 L449 967.8"/>
</g>
<g stroke="#111" stroke-width="2"><path d="M78 963 L91 953 M83 972 L97 962"/><path d="M195 1040 L208 1030 M200 1049 L213 1038"/></g>
<g fill="#fff" stroke="#111" stroke-width="1.4">
<circle cx="466.6" cy="841" r="16"/><circle cx="127.2" cy="969" r="16"/><circle cx="172" cy="1026" r="16"/><circle cx="456.6" cy="1021" r="16"/>
</g>
<g font-style="italic" fill="#111">
<text x="458" y="846" font-size="17">V<tspan font-size="10" dy="4">xy</tspan></text>
<text x="116" y="974" font-size="17">V<tspan font-size="10" dy="4">ref</tspan></text>
<text x="448" y="1026" font-size="17">V<tspan font-size="10" dy="4">xx</tspan></text>
<text x="58" y="987" font-size="18">V<tspan font-size="11" dy="4">G</tspan></text>
<text x="194" y="1071" font-size="18">V<tspan font-size="11" dy="4">sd</tspan></text>
</g>
<text x="172" y="1033" font-size="21" text-anchor="middle" fill="#111">A</text>

<!-- band diagram -->
<path d="M626 768 C645 830 665 868 686 866 C705 864 715 810 733 811 C750 812 752 845 764 842 C780 838 805 800 826 767" fill="none" stroke="#111" stroke-width="3.2"/>
<path d="M646 866 H712 M650 1003 H716" stroke="#b040b0" stroke-width="2.5" stroke-dasharray="5 3"/>
<line x1="661" y1="873" x2="661" y2="999" stroke="#4a80d0" stroke-width="1.3" marker-start="url(#ahb)" marker-end="url(#ahb)"/>
<path d="M636 1080 Q686 930 736 1080" fill="none" stroke="#e01e28" stroke-width="4"/>
<path d="M652 1080 Q686 990 722 1080" fill="none" stroke="#f08090" stroke-width="4"/>
<path d="M782 1072 Q823 1012 865 1072" fill="none" stroke="#e01e28" stroke-width="4"/>
<text x="596" y="875" font-size="17" fill="#222">CBM</text>
<text x="598" y="1009" font-size="17" fill="#e02030">VBM</text>
<text x="687" y="888" font-size="16" text-anchor="middle" fill="#222">K</text>
<text x="687" y="996" font-size="16" text-anchor="middle" fill="#222">K</text>
<text x="765" y="888" font-size="18" text-anchor="middle" fill="#222" class="serif">Q</text>
<text x="648" y="938" font-size="16" text-anchor="middle" fill="#222">Δ</text>
<text x="821" y="999" font-size="20" text-anchor="middle" fill="#222" class="serif">Γ</text>

<!-- (d) plot -->
<g fill="none">
<path d="M983 753 H1425" stroke="#111" stroke-width="2.2"/>
<path d="M983 753 V1069 H1425" stroke="#111" stroke-width="1.6"/>
<path d="M1425 753 V1069" stroke="#2a9c8e" stroke-width="1.6"/>
<path d="M983 832 h6 M983 911 h6 M983 990 h6 M983 792.5 h3.5 M983 871.5 h3.5 M983 950.5 h3.5 M983 1029.5 h3.5" stroke="#111" stroke-width="1.4"/>
<path d="M1061.6 1069 v-6 M1140.2 1069 v-6 M1218.8 1069 v-6 M1297.4 1069 v-6 M1376 1069 v-6 M1022.3 1069 v-3.5 M1100.9 1069 v-3.5 M1179.5 1069 v-3.5 M1258.1 1069 v-3.5 M1336.7 1069 v-3.5 M1415.3 1069 v-3.5" stroke="#111" stroke-width="1.4"/>
<path d="M1425 858.3 h-6 M1425 963.7 h-6 M1425 805.6 h-3.5 M1425 911 h-3.5 M1425 1016.4 h-3.5" stroke="#2a9c8e" stroke-width="1.4"/>
</g>
<path d="M990 811 L1000 814 L1010 822 L1019 834 L1026 818 L1036 803 L1045 808 L1053 819 L1062 835 L1072 858 L1082 892 L1092 935 L1100 975 L1106 1005 L1110 1040 L1111 1067 L1261 1067 L1266 1050 L1271 1031 L1278 1008 L1285 992 L1297 976 L1309 966 L1319 968 L1329 974 L1346 982 L1363 987 L1375 990 L1387 991 L1400 988 L1413 982" fill="none" stroke="#2a9c8e" stroke-width="2.6" stroke-linejoin="round"/>
<path d="M1109 919 V1069 M1256 919 V1069" stroke="#f08020" stroke-width="2.5" stroke-dasharray="6 4"/>
<path d="M985 941 L1105 1067" stroke="#2c3fb0" stroke-width="2" stroke-dasharray="4 3" fill="none"/>
<path d="M1261 1067 L1265.8 1063.6 L1273.1 1058.4 L1280.3 1050.7 L1287.6 1040.3 L1293.8 1028.6 L1300.6 1018.3 L1307.9 1009.2 L1315.6 1001.5 L1322.8 995 L1329.6 989.8 L1335.9 983.3 L1343.1 970.4 L1350.4 960 L1357.6 941.9 L1364.9 929 L1371.2 905.7 L1378 878.5 L1385.7 856.5 L1393 839.6 L1400.2 824.1 L1417.1 781.4 L1420 775" stroke="#2c3fb0" stroke-width="2" stroke-dasharray="4 3" fill="none"/>
<g fill="#d8e63a" stroke="#111" stroke-width="2">
<circle cx="993" cy="951" r="4.5"/><circle cx="1012" cy="969" r="4.5"/><circle cx="1018" cy="978" r="4.5"/><circle cx="1031" cy="995" r="4.5"/><circle cx="1035" cy="1004" r="4.5"/><circle cx="1046" cy="1018" r="4.5"/><circle cx="1056" cy="1027" r="4.5"/><circle cx="1072" cy="1044" r="4.5"/><circle cx="1102" cy="1066" r="4.5"/>
</g>
<g fill="#8ad640" stroke="#111" stroke-width="2">
<circle cx="1265.8" cy="1063.6" r="4.5"/><circle cx="1273.1" cy="1058.4" r="4.5"/><circle cx="1280.3" cy="1050.7" r="4.5"/><circle cx="1287.6" cy="1040.3" r="4.5"/><circle cx="1293.8" cy="1028.6" r="4.5"/><circle cx="1300.6" cy="1018.3" r="4.5"/><circle cx="1307.9" cy="1009.2" r="4.5"/><circle cx="1315.6" cy="1001.5" r="4.5"/><circle cx="1322.8" cy="995" r="4.5"/><circle cx="1329.6" cy="989.8" r="4.5"/><circle cx="1335.9" cy="983.3" r="4.5"/><circle cx="1343.1" cy="970.4" r="4.5"/><circle cx="1350.4" cy="960" r="4.5"/><circle cx="1357.6" cy="941.9" r="4.5"/><circle cx="1364.9" cy="929" r="4.5"/><circle cx="1371.2" cy="905.7" r="4.5"/><circle cx="1378" cy="878.5" r="4.5"/><circle cx="1385.7" cy="856.5" r="4.5"/><circle cx="1393" cy="839.6" r="4.5"/><circle cx="1400.2" cy="824.1" r="4.5"/><circle cx="1417.1" cy="781.4" r="4.5"/>
</g>
<g stroke="#111" stroke-width="1.3">
<line x1="1062" y1="975" x2="1054" y2="1002" marker-end="url(#ah)"/>
<line x1="1127" y1="1040" x2="1112" y2="1065" marker-end="url(#ah)"/>
<line x1="1243" y1="1040" x2="1253" y2="1065" marker-end="url(#ah)"/>
<line x1="1354" y1="1010" x2="1342" y2="991" marker-end="url(#ah)"/>
</g>
<text x="1052" y="969" font-size="22" font-style="italic" class="serif" fill="#111">n*</text>
<text x="1350" y="1034" font-size="22" font-style="italic" class="serif" fill="#111">n*</text>
<text x="1122" y="1028" font-size="22" font-style="italic" fill="#111">V</text>
<text x="1138" y="1012" font-size="12" fill="#111">h</text><text x="1137" y="1034" font-size="12" fill="#111">th</text>
<text x="1214" y="1028" font-size="22" font-style="italic" fill="#111">V</text>
<text x="1230" y="1012" font-size="12" fill="#111">e</text><text x="1229" y="1034" font-size="12" fill="#111">th</text>
<text x="990" y="1057" font-size="21" fill="#2a9c8e">MoSe<tspan font-size="13" dy="4">2</tspan></text>
<g font-size="17" fill="#111" text-anchor="end">
<text x="976" y="760">4</text><text x="976" y="839">3</text><text x="976" y="918">2</text><text x="976" y="997">1</text><text x="976" y="1076">0</text>
</g>
<g font-size="17" fill="#2a9c8e">
<text x="1436" y="760">300</text><text x="1436" y="865">200</text><text x="1436" y="970">100</text><text x="1436" y="1075">0</text>
</g>
<g font-size="17" fill="#111" text-anchor="middle">
<text x="983" y="1096">-5</text><text x="1062" y="1096">-4</text><text x="1140" y="1096">-3</text><text x="1219" y="1096">-2</text><text x="1297" y="1096">-1</text><text x="1376" y="1096">0</text>
</g>
<text x="1208" y="1129" font-size="20" text-anchor="middle" fill="#111"><tspan font-style="italic">V</tspan><tspan font-size="15" dy="4">ref</tspan><tspan dy="-4"> (V)</tspan></text>
<text transform="translate(947,911) rotate(-90)" text-anchor="middle" font-size="17" fill="#111">|<tspan font-style="italic">n</tspan>| (10<tspan font-size="10" dy="-7">14</tspan><tspan dy="7"> cm</tspan><tspan font-size="10" dy="-7">-2</tspan><tspan dy="7">)</tspan></text>
<text transform="translate(1481,911) rotate(90)" text-anchor="middle" font-size="20" fill="#2a9c8e">G<tspan font-size="13" dy="4">□</tspan><tspan dy="-4"> (μS)</tspan></text>

<!-- Panel (e) -->
<text x="8" y="1178" font-size="48" font-weight="bold" textLength="58" lengthAdjust="spacingAndGlyphs">(e)</text>
<rect x="134" y="1178" width="384" height="179" fill="#aadcdc" stroke="#3a56a8" stroke-width="1.5"/>
<rect x="148.4" y="1189.3" width="355.6" height="42" fill="#dede28" stroke="#9cc040" stroke-width="1.5"/>
<text x="326" y="1218" font-size="21" text-anchor="middle" fill="#222">Gate</text>
<g>
<rect x="109" y="1389.2" width="434" height="4.6" fill="url(#dotR)"/>
<rect x="109" y="1393.8" width="434" height="4.6" fill="url(#dotB)"/>
<rect x="109" y="1398.4" width="434" height="4.6" fill="url(#dotR)"/>
<rect x="109" y="1403" width="434" height="4.6" fill="url(#dotR)"/>
<rect x="109" y="1407.6" width="434" height="4.6" fill="url(#dotB)" opacity=".9"/>
<rect x="109" y="1412.2" width="434" height="4.6" fill="url(#dotR)" opacity=".8"/>
<rect x="109" y="1416.8" width="434" height="4.6" fill="url(#dotR)" opacity=".75"/>
<rect x="109" y="1421.4" width="434" height="4.6" fill="url(#dotB)" opacity=".6"/>
<rect x="109" y="1426" width="434" height="4.6" fill="url(#dotR)" opacity=".55"/>
<rect x="109" y="1430.6" width="434" height="4.6" fill="url(#dotR)" opacity=".45"/>
<rect x="109" y="1435.2" width="434" height="4.6" fill="url(#dotB)" opacity=".35"/>
<rect x="109" y="1439.8" width="434" height="4.6" fill="url(#dotR)" opacity=".3"/>
<rect x="109" y="1444.4" width="434" height="4.6" fill="url(#dotR)" opacity=".22"/>
</g>
<rect x="165" y="1386" width="153" height="26" fill="url(#pinkH)"/>
<rect x="334" y="1386" width="153" height="26" fill="url(#purpH)"/>
<path d="M165 1386.5 H318" stroke="#e0308a" stroke-width="2"/>
<path d="M334 1386.5 H487" stroke="#3050b0" stroke-width="2"/>
<g font-size="18" font-weight="bold" fill="#111" text-anchor="middle">
<text x="201" y="1406">−</text><text x="238" y="1406">−</text><text x="291" y="1406">−</text>
<text x="365" y="1404">+</text><text x="405" y="1411">+</text><text x="445" y="1406">+</text>
</g>
<rect x="106" y="1355.7" width="90.5" height="29.3" fill="#dfe030" stroke="#90c040" stroke-width="1.5"/>
<rect x="456.5" y="1355.7" width="89.2" height="29.3" fill="#dfe030" stroke="#90c040" stroke-width="1.5"/>
<text x="151" y="1377" font-size="19" text-anchor="middle" fill="#111">Source</text>
<text x="501" y="1378" font-size="20" text-anchor="middle" fill="#111">Drain</text>
<g fill="url(#ionP)">
<circle cx="184" cy="1250" r="12"/><circle cx="337" cy="1258" r="12"/><circle cx="424" cy="1251" r="12"/>
<circle cx="168" cy="1301" r="12"/><circle cx="272.6" cy="1290" r="12"/><circle cx="363" cy="1293" r="12"/><circle cx="415" cy="1287.5" r="12"/><circle cx="488" cy="1285" r="12"/>
<circle cx="254.5" cy="1332" r="12"/><circle cx="340" cy="1329" r="12"/><circle cx="468" cy="1331" r="12"/>
<circle cx="354" cy="1370" r="12"/><circle cx="388" cy="1370" r="12"/><circle cx="412" cy="1370" r="12"/><circle cx="444" cy="1370" r="12"/>
</g>
<g fill="url(#ionB)">
<circle cx="240" cy="1249" r="12"/><circle cx="293" cy="1254" r="12"/><circle cx="387" cy="1253" r="12"/><circle cx="466" cy="1247" r="12"/>
<circle cx="224.5" cy="1294" r="12"/><circle cx="319" cy="1296" r="12"/><circle cx="458" cy="1286" r="12"/>
<circle cx="207.7" cy="1329" r="12"/><circle cx="294" cy="1336" r="12"/><circle cx="374" cy="1325" r="12"/><circle cx="429" cy="1329" r="12"/>
<circle cx="210" cy="1370" r="12"/><circle cx="237" cy="1370" r="12"/><circle cx="272.5" cy="1370" r="12"/><circle cx="307.5" cy="1370" r="12"/>
</g>
<g fill="#d02020">
<circle cx="192" cy="1239" r="2.5"/><circle cx="345" cy="1247" r="2.5"/><circle cx="432" cy="1240" r="2.5"/><circle cx="176" cy="1290" r="2.5"/><circle cx="281" cy="1279" r="2.5"/><circle cx="371" cy="1282" r="2.5"/><circle cx="423" cy="1276" r="2.5"/><circle cx="496" cy="1274" r="2.5"/><circle cx="263" cy="1321" r="2.5"/><circle cx="348" cy="1318" r="2.5"/><circle cx="476" cy="1320" r="2.5"/><circle cx="362" cy="1359" r="2.5"/><circle cx="396" cy="1359" r="2.5"/><circle cx="420" cy="1359" r="2.5"/><circle cx="452" cy="1359" r="2.5"/>
</g>
<g fill="#333">
<circle cx="232" cy="1261" r="1.6"/><circle cx="300" cy="1266" r="1.6"/><circle cx="380" cy="1265" r="1.6"/><circle cx="459" cy="1259" r="1.6"/><circle cx="217" cy="1306" r="1.6"/><circle cx="326" cy="1308" r="1.6"/><circle cx="451" cy="1298" r="1.6"/><circle cx="200" cy="1341" r="1.6"/><circle cx="301" cy="1348" r="1.6"/><circle cx="367" cy="1337" r="1.6"/><circle cx="436" cy="1341" r="1.6"/>
</g>
<g font-size="14" font-weight="bold" fill="#fff" text-anchor="middle">
<text x="184" y="1255">−</text><text x="337" y="1263">−</text><text x="424" y="1256">−</text><text x="168" y="1306">−</text><text x="272.6" y="1295">−</text><text x="363" y="1298">−</text><text x="415" y="1292.5">−</text><text x="488" y="1290">−</text><text x="254.5" y="1337">−</text><text x="340" y="1334">−</text><text x="468" y="1336">−</text><text x="354" y="1375">−</text><text x="388" y="1375">−</text><text x="412" y="1375">−</text><text x="444" y="1375">−</text>
<text x="240" y="1254">+</text><text x="293" y="1259">+</text><text x="387" y="1258">+</text><text x="466" y="1252">+</text><text x="224.5" y="1299">+</text><text x="319" y="1301">+</text><text x="458" y="1291">+</text><text x="207.7" y="1334">+</text><text x="294" y="1341">+</text><text x="374" y="1330">+</text><text x="429" y="1334">+</text><text x="210" y="1375">+</text><text x="237" y="1375">+</text><text x="272.5" y="1375">+</text><text x="307.5" y="1375">+</text>
</g>
<g stroke="#111" stroke-width="1.2" fill="none">
<path d="M78 1209.6 H148.4 M504 1209.6 H574 M78 1209.6 V1296 M78 1306 V1371 H106 M574 1209.6 V1296 M574 1306 V1371 H545.7"/>
<path d="M78 1371 V1475 H321 M331 1475 H574 V1371" stroke-dasharray="5 3"/>
</g>
<path d="M321 1457 V1495" stroke="#111" stroke-width="2"/>
<path d="M331 1465 V1487" stroke="#111" stroke-width="3"/>
<path d="M65 1296 H93 M65 1305 H93" stroke="#e02030" stroke-width="3"/>
<path d="M560 1296 H588 M560 1305 H588" stroke="#2838a0" stroke-width="3"/>
<text x="12" y="1311" font-size="26" fill="#e02030"><tspan font-style="italic">V</tspan><tspan font-size="17">GS</tspan></text>
<text x="595" y="1311" font-size="26" fill="#2838a0"><tspan font-style="italic">V</tspan><tspan font-size="17">GD</tspan></text>
<text x="327" y="1527" text-anchor="middle" font-size="26" font-weight="bold" fill="#111"><tspan font-style="italic">V</tspan><tspan font-size="17">DS</tspan> &gt; <tspan font-style="italic">V</tspan><tspan font-size="17">GS</tspan></text>

<!-- IDS-VGS plot -->
<rect x="735" y="1174.8" width="235" height="328.2" fill="url(#vgsbg)"/>
<g stroke="#e82020" stroke-width="2.5" fill="none" stroke-linejoin="round">
<path d="M736 1245.2 L762 1248.6 L779.6 1256.9 L792 1273.6 L801.4 1307 L806.4 1357.1 L809.6 1412.7 L810.8 1496.2 L812.8 1468.3 L817.3 1384.9 L824.6 1329.2 L835.8 1307 L848.3 1301.4 L860.7 1290.3 L870 1254.1 L879.4 1220.7 L891.9 1211 L910.6 1206.3 L935.6 1205.4 L970 1208.2"/>
<path d="M736 1245.2 L770.3 1249.1 L785.9 1262.5 L798.4 1287.5 L810.8 1315.3 L820.2 1357.1 L826.4 1412.7 L831.4 1496.2 L835.8 1482.3 L842 1426.6 L854.5 1371 L873.2 1334.8 L885.7 1301.4 L898.1 1259.7 L904.4 1226.3 L916.8 1212.4 L935.6 1207.4 L970 1209.6"/>
</g>
<g stroke="#111" stroke-width="1.2">
<line x1="773.4" y1="1283.3" x2="787" y2="1323.7" marker-end="url(#ah)"/>
<line x1="815" y1="1312.5" x2="804.6" y2="1273.6" marker-end="url(#ah)"/>
<line x1="851.3" y1="1270.8" x2="859.5" y2="1227.7" marker-end="url(#ah)"/>
<line x1="906.2" y1="1240.2" x2="888.8" y2="1288.9" marker-end="url(#ah)"/>
</g>
<rect x="735" y="1174.8" width="235" height="328.2" fill="none" stroke="#111" stroke-width="1.5"/>
<line x1="737" y1="1174.4" x2="737" y2="1503.4" stroke="#111" stroke-width="4" stroke-dasharray="0.8 1.3 0.8 1.6 0.8 2.0 0.8 2.3 0.8 2.9 0.8 3.8 0.8 5.0 0.8 7.5 0.8 13.3"/>
<line x1="968" y1="1174.4" x2="968" y2="1503.4" stroke="#111" stroke-width="4" stroke-dasharray="0.8 1.3 0.8 1.6 0.8 2.0 0.8 2.3 0.8 2.9 0.8 3.8 0.8 5.0 0.8 7.5 0.8 13.3"/>
<line x1="735.6" y1="1177" x2="970" y2="1177" stroke="#111" stroke-width="4" stroke-dasharray="0.8 5.05"/>
<line x1="735.6" y1="1500.8" x2="970" y2="1500.8" stroke="#111" stroke-width="4" stroke-dasharray="0.8 5.05"/>
<path d="M735 1221.7 h7 M735 1268.6 h7 M735 1315.5 h7 M735 1362.4 h7 M735 1409.3 h7 M735 1456.2 h7 M970 1221.7 h-7 M970 1268.6 h-7 M970 1315.5 h-7 M970 1362.4 h-7 M970 1409.3 h-7 M970 1456.2 h-7 M765.3 1503 v-7 M794.5 1503 v-7 M823.8 1503 v-7 M853 1503 v-7 M882.3 1503 v-7 M911.5 1503 v-7 M940.8 1503 v-7" stroke="#111" stroke-width="1.2"/>
<g font-size="15" fill="#111" text-anchor="end">
<text x="729" y="1180">10<tspan font-size="9" dy="-7">-4</tspan></text>
<text x="729" y="1227">10<tspan font-size="9" dy="-7">-5</tspan></text>
<text x="729" y="1274">10<tspan font-size="9" dy="-7">-6</tspan></text>
<text x="729" y="1321">10<tspan font-size="9" dy="-7">-7</tspan></text>
<text x="729" y="1368">10<tspan font-size="9" dy="-7">-8</tspan></text>
<text x="729" y="1415">10<tspan font-size="9" dy="-7">-9</tspan></text>
<text x="731" y="1462">10<tspan font-size="9" dy="-7">-10</tspan></text>
<text x="731" y="1508">10<tspan font-size="9" dy="-7">-11</tspan></text>
</g>
<g font-size="16" fill="#111" text-anchor="middle">
<text x="736" y="1528">-5</text><text x="765.3" y="1528">-4</text><text x="794.5" y="1528">-3</text><text x="823.8" y="1528">-2</text><text x="853" y="1528">-1</text><text x="882.3" y="1528">0</text><text x="911.5" y="1528">1</text><text x="940.8" y="1528">2</text><text x="970" y="1528">3</text>
</g>
<text x="855" y="1557" font-size="19" text-anchor="middle" fill="#111"><tspan font-style="italic">V</tspan><tspan font-size="14">GS</tspan> (V)</text>
<text transform="translate(683,1340) rotate(-90)" font-size="19" text-anchor="middle" fill="#111"><tspan font-style="italic">I</tspan><tspan font-size="14">DS</tspan> (A)</text>
<text x="780" y="1203" font-size="16" fill="#111">220 K</text>
<text x="783" y="1227" font-size="15" fill="#111"><tspan font-style="italic">V</tspan><tspan font-size="11">DS</tspan>=0.1V</text>
<text x="748" y="1482" font-size="17" fill="#111">hole</text>
<text x="889" y="1482" font-size="17" fill="#111">electron</text>

<!-- IDS-VDS plot -->
<rect x="1095.6" y="1161.5" width="429.3" height="353.6" fill="#fff" stroke="#111" stroke-width="1.5"/>
<line x1="1098.6" y1="1176.8" x2="1098.6" y2="1515" stroke="#111" stroke-width="6" stroke-dasharray="1.2 6.85"/>
<line x1="1521.9" y1="1176.8" x2="1521.9" y2="1515" stroke="#111" stroke-width="6" stroke-dasharray="1.2 6.85"/>
<line x1="1095" y1="1164" x2="1525" y2="1164" stroke="#111" stroke-width="5" stroke-dasharray="1.2 9.53"/>
<line x1="1095" y1="1512.6" x2="1525" y2="1512.6" stroke="#111" stroke-width="5" stroke-dasharray="1.2 9.53"/>
<path d="M1095.6 1177.6 h11 M1095.6 1258 h11 M1095.6 1338.5 h11 M1095.6 1419 h11 M1095.6 1499.5 h11 M1524.9 1177.6 h-11 M1524.9 1258 h-11 M1524.9 1338.5 h-11 M1524.9 1419 h-11 M1524.9 1499.5 h-11 M1203 1515 v-9 M1310.3 1515 v-9 M1417.6 1515 v-9 M1203 1161.5 v9 M1310.3 1161.5 v9 M1417.6 1161.5 v9" stroke="#111" stroke-width="1.4"/>
<path d="M1256 1168 V1500 M1290 1499.5 H1525" stroke="#111" stroke-width="1.2" stroke-dasharray="1.5 3" fill="none"/>
<path d="M1095.6 1499.5 L1264.9 1499.5 Q1272 1499 1279.2 1497.6 L1295 1492 L1311.5 1485 L1330 1478 L1347.4 1469.7 L1365 1460 L1383.2 1448.9 L1400 1436 L1419.1 1421 L1435 1404 L1451.3 1384.9 L1466 1366 L1480 1345.9 L1491 1326 L1501.6 1304.2 L1513 1279 L1524.9 1251.3" fill="none" stroke="#2a3da8" stroke-width="3" stroke-linejoin="round"/>
<path d="M1256 1499.5 L1269 1475 L1282.8 1449 L1294 1428 L1304.3 1410 L1322.3 1385 L1338 1372 L1354.5 1362.6 L1372 1356 L1390.4 1351.5 L1408 1348.5 L1426.3 1345.9 L1442 1343 L1455 1340.4 L1465 1337 L1472.9 1333.4 L1480 1326 L1487.2 1315.3 L1496 1296 L1505.1 1273.6 L1511 1257 L1515.9 1240.2 L1521 1220 L1524.9 1199.9" fill="none" stroke="#e02030" stroke-width="3" stroke-linejoin="round"/>
<g font-size="17" fill="#111" text-anchor="end">
<text x="1088" y="1184">200</text><text x="1088" y="1264">150</text><text x="1088" y="1345">100</text><text x="1088" y="1425">50</text><text x="1088" y="1506">0</text>
</g>
<g font-size="17" fill="#111" text-anchor="middle">
<text x="1095.6" y="1537">-3</text><text x="1203" y="1537">-1</text><text x="1310.3" y="1537">1</text><text x="1417.6" y="1537">3</text><text x="1522" y="1537">5</text>
</g>
<text x="1310" y="1560" font-size="19" text-anchor="middle" fill="#111"><tspan font-style="italic">V</tspan><tspan font-size="14">DS</tspan> (V)</text>
<text transform="translate(1052,1340) rotate(-90)" font-size="19" text-anchor="middle" fill="#111"><tspan font-style="italic">I</tspan><tspan font-size="14">DS</tspan> (μA)</text>
<text x="1132" y="1402" font-size="15" fill="#111"><tspan font-style="italic">V</tspan><tspan font-size="11">GS</tspan>=1V (fixed)</text>
<text x="1320" y="1407" font-size="17" fill="#111">220 K</text>
<text x="1401" y="1446" font-size="17" fill="#111">180 K</text>

<!-- inset -->
<rect x="1178.8" y="1193.5" width="192.6" height="118.2" fill="#fff" stroke="#111" stroke-width="1.3"/>
<line x1="1180.3" y1="1198.8" x2="1180.3" y2="1311.7" stroke="#111" stroke-width="3" stroke-dasharray="0.5 0.31 0.5 0.42 0.5 0.58 0.5 0.69 0.5 0.92 0.5 1.27 0.5 1.73 0.5 2.69 0.5 4.91"/>
<line x1="1369.9" y1="1198.8" x2="1369.9" y2="1311.7" stroke="#111" stroke-width="3" stroke-dasharray="0.5 0.31 0.5 0.42 0.5 0.58 0.5 0.69 0.5 0.92 0.5 1.27 0.5 1.73 0.5 2.69 0.5 4.91"/>
<line x1="1178.8" y1="1195" x2="1371.4" y2="1195" stroke="#111" stroke-width="3" stroke-dasharray="0.8 3.95"/>
<line x1="1178.8" y1="1310.2" x2="1371.4" y2="1310.2" stroke="#111" stroke-width="3" stroke-dasharray="0.8 3.95"/>
<path d="M1178.8 1235 h6 M1178.8 1271 h6 M1371.4 1235 h-6 M1371.4 1271 h-6 M1228 1311.7 v-6 M1276 1311.7 v-6 M1323 1311.7 v-6" stroke="#111" stroke-width="1.2"/>
<path d="M1251 1194 V1311" stroke="#111" stroke-width="1" stroke-dasharray="1.2 2" fill="none"/>
<path d="M1178.8 1256.9 L1195 1262 L1211 1268 L1227 1275 L1243.4 1282 L1248.7 1286 L1251.2 1290.3 L1251.6 1311 L1253.4 1273.6 L1256 1245.8 L1258 1235 L1261.3 1226.3 L1267 1220 L1275.6 1215.2 L1288 1211 L1300.7 1208.2 L1318 1204.5 L1336.6 1201.3 L1354 1198 L1371.4 1195.2" fill="none" stroke="#111" stroke-width="2.5" stroke-linejoin="round"/>
<g font-size="13" fill="#111" text-anchor="end">
<text x="1174" y="1205">10<tspan font-size="8" dy="-6">-4</tspan></text>
<text x="1174" y="1241">10<tspan font-size="8" dy="-6">-6</tspan></text>
<text x="1174" y="1277">10<tspan font-size="8" dy="-6">-8</tspan></text>
<text x="1176" y="1312">10<tspan font-size="8" dy="-6">-10</tspan></text>
</g>
<g font-size="14" fill="#111" text-anchor="middle">
<text x="1181" y="1327">-3</text><text x="1228" y="1327">-1</text><text x="1276" y="1327">1</text><text x="1323" y="1327">3</text><text x="1370" y="1327">5</text>
</g>
<text x="1276" y="1344" font-size="15" text-anchor="middle" fill="#111"><tspan font-style="italic">V</tspan><tspan font-size="11">DS</tspan> (V)</text>
<text transform="translate(1141,1253) rotate(-90)" font-size="14" text-anchor="middle" fill="#111">log|<tspan font-style="italic">I</tspan><tspan font-size="10">DS</tspan>| (A)</text>
<text x="1311" y="1291" font-size="15" text-anchor="middle" fill="#111">180 K</text>

<!-- Dashed borders -->
<g fill="none" stroke="#3b8bd0" stroke-width="4.5" stroke-dasharray="25 17">
<rect x="5" y="79" width="1531" height="1487" rx="30"/>
<line x1="668" y1="79" x2="668" y2="737"/>
<line x1="5" y1="737" x2="1536" y2="737"/>
<line x1="5" y1="1137" x2="1536" y2="1137"/>
</g>
</svg>
</body></html>
